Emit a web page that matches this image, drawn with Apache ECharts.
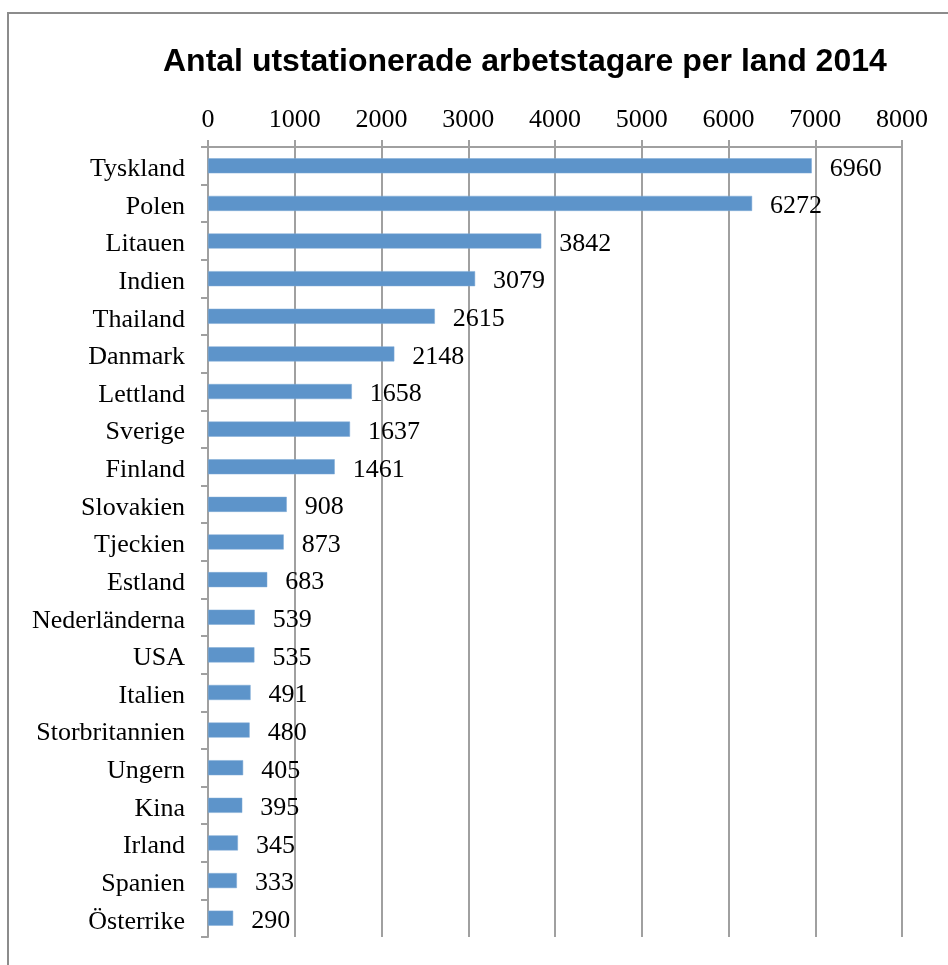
<!DOCTYPE html>
<html>
<head>
<meta charset="utf-8">
<script src="https://cdn.jsdelivr.net/npm/echarts@6/dist/echarts.min.js"></script>
<style>
html,body{margin:0;padding:0;background:#fff;}
#chart{width:948px;height:965px;}
</style>
</head>
<body>
<div id="chart"></div>
<script>
const titleText = "Antal utstationerade arbetstagare per land 2014";
const categories = ["Tyskland","Polen","Litauen","Indien","Thailand","Danmark","Lettland","Sverige","Finland","Slovakien","Tjeckien","Estland","Nederländerna","USA","Italien","Storbritannien","Ungern","Kina","Irland","Spanien","Österrike"];
const values = [6960,6272,3842,3079,2615,2148,1658,1637,1461,908,873,683,539,535,491,480,405,395,345,333,290];
const axisMin = 0, axisMax = 8000, axisStep = 1000;

const serif = "'Liberation Serif','Times New Roman',serif";
const chart = echarts.init(document.getElementById('chart'), null, {renderer:'canvas'});
chart.setOption({
  animation:false,
  backgroundColor:'#fff',
  title:{
    text:titleText,
    left:158, top:41,
    textStyle:{fontFamily:"'Liberation Sans',Arial,sans-serif", fontWeight:'bold', fontSize:32, color:'#000'}
  },
  graphic:[{
    type:'rect', shape:{x:8, y:13, width:1000, height:1000},
    style:{fill:'none', stroke:'#8c8c8c', lineWidth:2}, silent:true
  }],
  grid:{left:208, top:147, right:46, bottom:28, containLabel:false},
  xAxis:{
    type:'value', position:'top', min:axisMin, max:axisMax, interval:axisStep,
    axisLine:{show:true, lineStyle:{color:'#a0a0a0', width:2}},
    axisTick:{show:true, inside:false, length:7, lineStyle:{color:'#a0a0a0', width:2}},
    splitLine:{show:true, lineStyle:{color:'#a0a0a0', width:2}},
    axisLabel:{fontFamily:serif, fontSize:26, color:'#000', margin:14, formatter:function(v){return String(v);}}
  },
  yAxis:{
    type:'category', data:categories, inverse:true,
    axisLine:{show:true, lineStyle:{color:'#a0a0a0', width:2}},
    axisTick:{show:true, length:7, alignWithLabel:false, lineStyle:{color:'#a0a0a0', width:2}},
    axisLabel:{
      margin:23,
      formatter:function(v){return '{c|' + v + '}';},
      rich:{c:{fontFamily:serif, fontSize:26, color:'#000', padding:[7,0,0,0]}}
    }
  },
  series:[{
    type:'bar', data:values, barCategoryGap:'60%',
    itemStyle:{color:'#5d94ca', borderColor:'#7eaad6', borderWidth:0.5},
    label:{show:true, position:'right', distance:18, offset:[0,3], fontFamily:serif, fontSize:26, color:'#000'}
  }]
});
</script>
</body>
</html>
